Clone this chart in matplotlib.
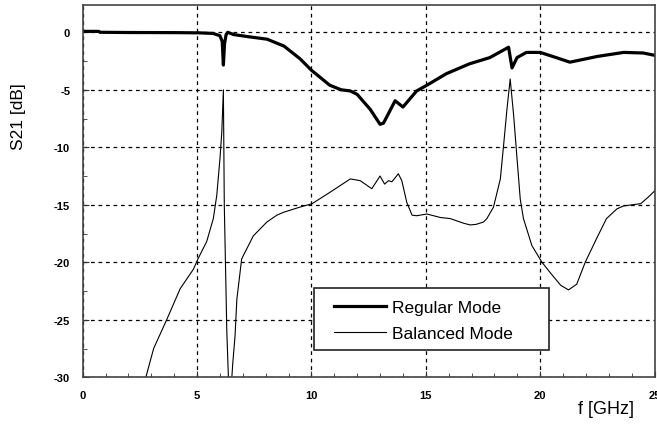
import matplotlib
matplotlib.use("Agg")
import matplotlib.pyplot as plt
from matplotlib.ticker import MultipleLocator
from matplotlib.patches import Rectangle

plt.rcParams['font.family'] = ['Liberation Sans', 'DejaVu Sans']

# Regular mode S21 (thick)
reg_f = [0, 0.7, 0.76, 2, 4, 5.1, 5.7, 6.0, 6.1, 6.15, 6.2, 6.27, 6.34, 6.6, 7.3, 8.06, 8.8, 9.5,
         10.0, 10.8, 11.3, 11.7, 12.0, 12.57, 13.0, 13.15, 13.66, 14.0, 14.6, 15.05, 15.9, 16.9, 17.8,
         18.62, 18.77, 18.99, 19.4, 20.0, 20.7, 21.3, 22.5, 23.65, 24.5, 25]
reg_s = [0.08, 0.08, 0.0, -0.02, -0.03, -0.05, -0.1, -0.3, -0.8, -2.85, -1.0, -0.2, 0.0, -0.2,
         -0.4, -0.6, -1.2, -2.3, -3.3, -4.6, -5.0, -5.1, -5.4, -6.7, -8.0, -7.9, -5.95, -6.5, -5.1,
         -4.6, -3.6, -2.75, -2.2, -1.3, -3.1, -2.2, -1.75, -1.75, -2.2, -2.6, -2.1, -1.75, -1.8, -2.0]

# Balanced mode S21 (thin)
bal_f = [2.5, 2.76, 3.1, 3.67, 4.26, 4.84, 5.04, 5.42, 5.71, 5.86, 6.0, 6.08, 6.15, 6.19, 6.3,
         6.37, 6.45, 6.52, 6.56, 6.66, 6.74, 6.95, 7.46, 8.05, 8.49, 8.78, 9.5, 10.03, 10.82,
         11.7, 12.13, 12.64, 13.0, 13.2, 13.37, 13.52, 13.8, 13.95, 14.17, 14.4, 14.6, 15.05,
         15.63, 16.07, 16.65, 16.94, 17.2, 17.52, 17.67, 17.96, 18.26, 18.4, 18.55, 18.69,
         18.84, 18.99, 19.13, 19.27, 19.64, 20.08, 20.44, 20.9, 21.24, 21.6, 21.97, 22.5, 22.9,
         23.36, 23.65, 24.4, 24.8, 25]
bal_s = [-31.5, -30, -27.5, -25, -22.3, -20.6, -19.7, -18.2, -16.2, -14.2, -11.0, -8.7, -5.0,
         -15, -26, -30, -34, -30, -28.8, -26.4, -23.2, -19.7, -17.7, -16.5, -15.9, -15.65, -15.2,
         -14.9, -13.9, -12.75, -12.9, -13.6, -12.5, -13.2, -12.9, -13.0, -12.3, -12.9, -14.8,
         -15.9, -15.95, -15.8, -16.1, -16.2, -16.6, -16.75, -16.7, -16.5, -16.2, -15.2, -12.75,
         -9.86, -6.67, -4.06, -7.2, -11.0, -14.5, -16.2, -18.55, -20.0, -20.9, -22.0, -22.4,
         -21.9, -20.0, -17.8, -16.2, -15.35, -15.1, -14.9, -14.2, -13.8]

labels = ["Regular Mode", "Balanced Mode"]
x_ticks = [0, 5, 10, 15, 20, 25]
y_ticks = [0, -5, -10, -15, -20, -25, -30]

fig = plt.figure(figsize=(6.57, 4.27), dpi=100)
ax = fig.add_axes([0.1259, 0.114, 0.8703, 0.8727])

ax.plot(reg_f, reg_s, color='black', lw=2.3, label=labels[0])
ax.plot(bal_f, bal_s, color='black', lw=0.8, label=labels[1])

ax.set_xlim(0, 25)
ax.set_ylim(-30, 2.4)
ax.set_xticks(x_ticks)
ax.set_yticks(y_ticks)
ax.set_xticklabels([str(v) for v in x_ticks])
ax.set_yticklabels([str(v) for v in y_ticks])
ax.xaxis.set_minor_locator(MultipleLocator(1))
ax.yaxis.set_minor_locator(MultipleLocator(2.5))
ax.tick_params(which='both', direction='in', colors='#333333', labelcolor='black', labelsize=8)
ax.tick_params(which='major', length=4, pad=9)
ax.tick_params(which='minor', length=3)
for lbl in ax.get_xticklabels() + ax.get_yticklabels():
    lbl.set_fontweight('bold')
ax.grid(True, which='major', color='black', linestyle=(0, (3, 3)), lw=0.9)
for s in ax.spines.values():
    s.set_color('#444444')
    s.set_linewidth(1.2)

# legend frame
frame = Rectangle((0.4045, 0.074), 0.4105, 0.1649, transform=ax.transAxes,
                  facecolor='white', edgecolor='#222222', lw=1.2, zorder=4)
ax.add_patch(frame)
leg = ax.legend(loc='center left', bbox_to_anchor=(0.4400, 0.1532), frameon=False,
                fontsize=12.5, handlelength=3.0, borderpad=0, borderaxespad=0,
                labelspacing=0.65, handletextpad=0.3)
leg.set_zorder(5)

fig.text(0.028, 0.726, "S21 [dB]", rotation=90, ha='center', va='center', fontsize=12.5)
fig.text(0.922, 0.040, "f [GHz]", ha='center', va='center', fontsize=13)

fig.savefig("out.png", dpi=100)
